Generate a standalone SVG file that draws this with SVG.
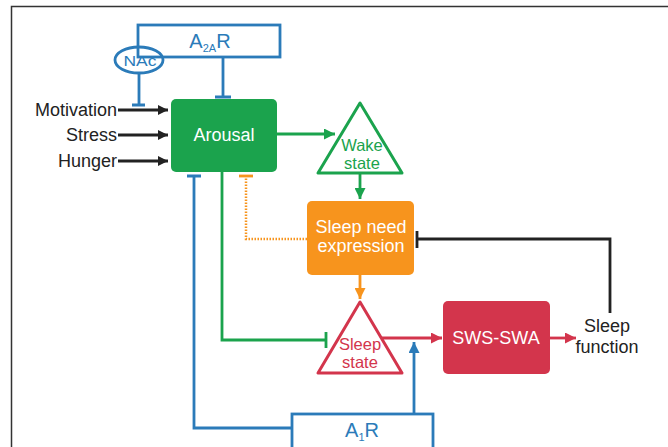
<svg xmlns="http://www.w3.org/2000/svg" width="668" height="447" viewBox="0 0 668 447">
<style>
text{font-family:"Liberation Sans",Arial,sans-serif}
.lbl{font-size:18px;fill:#222}
.wt{font-size:18px;fill:#fff;text-anchor:middle}
.blue{stroke:#2b7bb9;fill:none;stroke-width:2.8}
.green{stroke:#1ba34d;fill:none;stroke-width:2.8}
.red{stroke:#d3354c;fill:none;stroke-width:2.8}
.blk{stroke:#222;fill:none;stroke-width:2.8}
.org{stroke:#f7941d;fill:none;stroke-width:2.8}
</style>
<defs>
<marker id="ak" viewBox="0 0 10 10" refX="10" refY="5" markerWidth="11" markerHeight="10" markerUnits="userSpaceOnUse" orient="auto"><path d="M0,0L10,5L0,10z" fill="#222"/></marker>
<marker id="ag" viewBox="0 0 10 10" refX="10" refY="5" markerWidth="11" markerHeight="11" markerUnits="userSpaceOnUse" orient="auto"><path d="M0,0L10,5L0,10z" fill="#1ba34d"/></marker>
<marker id="ar" viewBox="0 0 10 10" refX="10" refY="5" markerWidth="11" markerHeight="11" markerUnits="userSpaceOnUse" orient="auto"><path d="M0,0L10,5L0,10z" fill="#d3354c"/></marker>
<marker id="ao" viewBox="0 0 10 10" refX="10" refY="5" markerWidth="11" markerHeight="11" markerUnits="userSpaceOnUse" orient="auto"><path d="M0,0L10,5L0,10z" fill="#f7941d"/></marker>
<marker id="ab" viewBox="0 0 10 10" refX="10" refY="5" markerWidth="11" markerHeight="11" markerUnits="userSpaceOnUse" orient="auto"><path d="M0,0L10,5L0,10z" fill="#2b7bb9"/></marker>
</defs>
<rect width="668" height="447" fill="#fff"/>
<path d="M11.5,447V6.5H668" fill="none" stroke="#333" stroke-width="1.5"/>

<g id="connectors">
<line class="blk" x1="118" y1="110" x2="168" y2="110" marker-end="url(#ak)"/>
<line class="blk" x1="118" y1="135" x2="168" y2="135" marker-end="url(#ak)"/>
<line class="blk" x1="118" y1="161" x2="168" y2="161" marker-end="url(#ak)"/>
<path class="blue" d="M139,73V105M132,105H145"/>
<path class="blue" d="M223,57V97M215,97H231"/>
<line class="green" x1="277" y1="134" x2="335" y2="134" marker-end="url(#ag)"/>
<line class="green" x1="360" y1="174" x2="360" y2="199" marker-end="url(#ag)"/>
<line class="org" x1="360" y1="275" x2="360" y2="299" marker-end="url(#ao)"/>
<path d="M307,239H246V176" fill="none" stroke="#f7941d" stroke-width="2.5" stroke-dasharray="1.5,1.5"/>
<path class="org" d="M239,176H253"/>
<path class="green" d="M222,172V340H326M326,332V348"/>
<path class="blue" d="M292,428H194V176M187,176H201"/>
<line class="blue" x1="414" y1="414" x2="414" y2="342" stroke-width="3" marker-end="url(#ab)"/>
<line class="red" x1="381" y1="338" x2="442" y2="338" marker-end="url(#ar)"/>
<line class="red" x1="550" y1="338" x2="576" y2="338" marker-end="url(#ar)"/>
<path class="blk" d="M610,313V239H417M417,231V248"/>
</g>

<g id="a2ar">
<rect x="138" y="25" width="142" height="32" fill="#fff" class="blue"/>
<text x="210" y="48" font-size="20" fill="#2b7bb9" text-anchor="middle">A<tspan font-size="11" dy="4">2A</tspan><tspan dy="-4">R</tspan></text>
</g>
<g id="nac">
<ellipse cx="139" cy="60" rx="24" ry="13" fill="#fff" class="blue"/>
<text x="140" y="66" font-size="15.5" fill="#2b7bb9" text-anchor="middle" textLength="33" lengthAdjust="spacingAndGlyphs">NAc</text>
</g>
<g id="motivation"><text class="lbl" x="117" y="116" text-anchor="end">Motivation</text></g>
<g id="stress"><text class="lbl" x="117" y="141" text-anchor="end">Stress</text></g>
<g id="hunger"><text class="lbl" x="117" y="167" text-anchor="end">Hunger</text></g>
<g id="arousal">
<rect x="171" y="99" width="106" height="73" rx="5" fill="#1ba34d"/>
<text class="wt" x="224" y="141">Arousal</text>
</g>
<g id="wake">
<polygon points="360,103 318,173 402,173" fill="#fff" stroke="#1ba34d" stroke-width="3" stroke-linejoin="round"/>
<text x="362" y="151" font-size="16.5" fill="#1ba34d" text-anchor="middle">Wake</text>
<text x="362" y="169" font-size="16.5" fill="#1ba34d" text-anchor="middle">state</text>
</g>
<g id="sleepneed">
<rect x="307" y="201" width="107" height="74" rx="5" fill="#f7941d"/>
<text class="wt" x="361" y="233">Sleep need</text>
<text class="wt" x="361" y="252">expression</text>
</g>
<g id="sleepstate">
<polygon points="360,302 318,373 402,373" fill="#fff" stroke="#d3354c" stroke-width="3" stroke-linejoin="round"/>
<text x="360" y="350" font-size="16.5" fill="#d3354c" text-anchor="middle">Sleep</text>
<text x="360" y="368" font-size="16.5" fill="#d3354c" text-anchor="middle">state</text>
</g>
<g id="swsswa">
<rect x="443" y="301" width="107" height="73" rx="5" fill="#d3354c"/>
<text class="wt" x="496" y="344">SWS-SWA</text>
</g>
<g id="sleepfunction">
<text class="lbl" x="607" y="332" text-anchor="middle">Sleep</text>
<text class="lbl" x="607" y="353" text-anchor="middle">function</text>
</g>
<g id="a1r">
<rect x="292" y="414" width="141" height="40" fill="#fff" class="blue"/>
<text x="362" y="437" font-size="20" fill="#2b7bb9" text-anchor="middle">A<tspan font-size="11" dy="4">1</tspan><tspan dy="-4">R</tspan></text>
</g>
</svg>
